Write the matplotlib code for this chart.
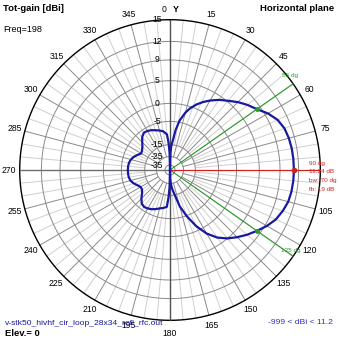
import numpy as np
import matplotlib.pyplot as plt

plt.rcParams['font.family'] = ['Liberation Sans', 'DejaVu Sans']

# radial scale of the plot: dB level -> ring radius (pixels of the 150 px outer ring)
scale_db = [-40, -35, -25, -15, -5, 0, 5, 9, 12, 15]
scale_px = [0, 5, 13.5, 25.3, 48.6, 66.6, 89.3, 110, 128.6, 150.3]
ring_db = [15, 12, 9, 5, 0, -5, -15, -25, -35]

# horizontal pattern, azimuth in degrees (clockwise from Y), total gain in dBi
azimuth = [0, 1.5, 3, 6, 8, 11, 15, 18, 22, 26, 30, 35, 40, 45, 50, 55, 60, 65,
           70, 75, 80, 85, 90, 95, 100, 105, 110, 115, 120, 125, 130, 135, 140,
           145, 150, 155, 160, 165, 170, 174, 177, 178.5, 180,
           181.5, 183, 185, 190, 195, 200, 205, 210, 215, 220, 225, 230, 235,
           240, 245, 250, 255, 260, 265, 270, 275, 280, 285, 290, 295, 300,
           305, 310, 315, 320, 325, 330, 335, 340, 345, 350, 355, 357, 358.5, 360]
gain = [-40, -22, -16, -12.5, -8.5, -4.5, -2.0, -0.5, 0.9, 2.0, 3.0, 4.2, 5.2,
        6.3, 7.3, 8.24, 9.5, 10.4, 10.9, 11.1, 11.2, 11.23, 11.24, 11.22, 11.15,
        11.0, 10.6, 10.1, 9.3, 8.24, 7.2, 6.1, 5.0, 3.5, 1.5, -1.3, -4.8, -9.7,
        -16, -21, -26, -30, -40,
        -22, -14, -10.0, -9.3, -8.8, -8.0, -7.3, -6.8, -6.5, -7.0, -8.5, -10.2,
        -11.2, -11.3, -10.4, -9.2, -8.3, -7.9, -7.8, -7.76, -7.8, -8.0, -8.5,
        -9.3, -10.5, -11.6, -11.2, -10.4, -9.0, -7.3, -6.3, -6.5, -7.0, -7.7,
        -8.3, -9.0, -10.5, -14, -22, -40]

freq = 198
elev = 0
out_file = 'v-stk50_hivhf_cir_loop_28x34_refl_rfc.out'
min_gain = -999

max_gain = max(gain)
max_az = azimuth[gain.index(max_gain)]
bw_lo, bw_hi = 55, 125
fb = 19

blue = '#1818a0'
red = '#d02020'
green = '#2a9a2a'


def fwd(d):
    return np.interp(d, scale_db, scale_px)


def inv(r):
    return np.interp(r, scale_px, scale_db)


fig = plt.figure(figsize=(3.39, 3.39), dpi=100)
ax = fig.add_axes([0.0581, 0.0551, 0.8868, 0.8868], projection='polar')
ax.set_theta_zero_location('N')
ax.set_theta_direction(-1)
ax.set_yscale('function', functions=(fwd, inv))
ax.set_ylim(-40, 15)
ax.axis('off')

th = np.linspace(0, 2 * np.pi, 721)
for d in ring_db:
    ax.plot(th, np.full_like(th, d), color='black' if d == 15 else '#8a8a8a',
            lw=1.0 if d == 15 else 0.7, clip_on=False, zorder=2)

# spokes: light every 5 dg, darker every 15 dg
for a in range(0, 360, 5):
    t = np.deg2rad(a)
    if a % 90 == 0:
        continue
    if a % 15 == 0:
        ax.plot([t, t], [-25, 15], color='#8a8a8a', lw=0.7, clip_on=False, zorder=1)
    else:
        ax.plot([t, t], [-15, 15], color='#cfcfcf', lw=0.7, clip_on=False, zorder=1)

ax.plot([0, 0], [-40, 15], color='#505050', lw=1.0, clip_on=False, zorder=3)
ax.plot([np.pi, np.pi], [-40, 15], color='#505050', lw=1.0, clip_on=False, zorder=3)
ax.plot([1.5 * np.pi] * 2, [-40, 15], color='#707070', lw=1.0, clip_on=False, zorder=3)
ax.plot([np.deg2rad(max_az)] * 2, [-40, 15], color=red, lw=0.9, clip_on=False, zorder=3)
for a in (bw_lo, bw_hi):
    ax.plot([np.deg2rad(a)] * 2, [-40, 15], color=green, lw=0.8, clip_on=False, zorder=3)

# pattern
ax.plot(np.deg2rad(azimuth), gain, color=blue, lw=1.6, clip_on=False, zorder=5)
ax.plot(np.deg2rad(max_az), max_gain, 'o', color=red, ms=3, clip_on=False, zorder=6)
for a in (bw_lo, bw_hi):
    ax.plot(np.deg2rad(a), max_gain - 3, 'o', color=green, ms=2.5, clip_on=False, zorder=6)

# dB labels along the Y spoke
for d in ring_db:
    ax.annotate(f'{d}', xy=(0, d), xytext=(-13, 0), textcoords='offset pixels',
                ha='center', va='center', fontsize=6.2, zorder=7)

# azimuth labels
for a in range(15, 360, 15):
    if a == max_az:
        continue
    t = np.deg2rad(a)
    off = 13 if a == 180 else 10.5
    ax.annotate(f'{a}', xy=(t, 15), xytext=(off * np.sin(t), off * np.cos(t)),
                textcoords='offset pixels', ha='center', va='center', fontsize=6.2)
ax.annotate('0', xy=(0, 15), xytext=(-6, 10), textcoords='offset pixels',
            ha='center', va='center', fontsize=6.2)
ax.annotate('Y', xy=(0, 15), xytext=(6, 10), textcoords='offset pixels',
            ha='center', va='center', fontsize=6.5, weight='bold')

# max-gain and beamwidth notes
notes = [f'{max_az} dg', f'{max_gain:.2f} dB', f'bw: {bw_hi - bw_lo} dg', f'fb: {fb} dB']
for i, s in enumerate(notes):
    ax.annotate(s, xy=(np.deg2rad(max_az), 15), xytext=(-11, 7 - 8.8 * i),
                textcoords='offset pixels', ha='left', va='center',
                fontsize=4.6, color=red, zorder=8)
ax.annotate(f'{bw_lo} dg', xy=(np.deg2rad(bw_lo), 15), xytext=(-3, 8),
            textcoords='offset pixels', ha='center', va='center',
            fontsize=4.6, color=green)
ax.annotate(f'{bw_hi} dg', xy=(np.deg2rad(bw_hi), 15), xytext=(-2, 6),
            textcoords='offset pixels', ha='center', va='center',
            fontsize=4.6, color=green)

W = 339.0
fig.text(3 / W, 1 - 4 / W, 'Tot-gain [dBi]', ha='left', va='top',
         fontsize=6.8, weight='bold')
fig.text(3 / W, 1 - 30 / W, f'Freq={freq}', ha='left', va='center', fontsize=6.5)
fig.text(334 / W, 1 - 4 / W, 'Horizontal plane', ha='right', va='top',
         fontsize=6.8, weight='bold')
fig.text(5 / W, 1 - 323.5 / W, out_file, ha='left', va='center',
         fontsize=6.1, color=blue, zorder=10,
         bbox=dict(fc='none', ec='none', pad=0))
fig.text(5 / W, 1 - 333.5 / W, f'Elev.= {elev}', ha='left', va='center',
         fontsize=6.8, weight='bold')
fig.text(333 / W, 1 - 323 / W, f'{min_gain} < dBi < {max_gain:.1f}',
         ha='right', va='center', fontsize=6.1, color='#3030c0')

fig.savefig('out.png', dpi=100, facecolor='white')
